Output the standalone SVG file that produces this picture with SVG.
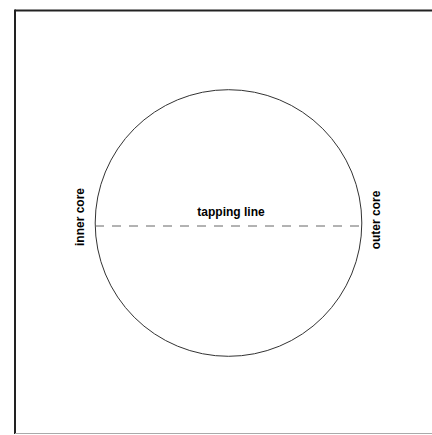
<svg xmlns="http://www.w3.org/2000/svg" width="432" height="435" viewBox="0 0 432 435">
<style>
.lbl{font-family:"Liberation Sans",Arial,sans-serif;font-weight:bold;font-size:12px;fill:#000}
</style>
<rect width="432" height="435" fill="#fff"/>
<g id="frame">
<line x1="15" y1="10.5" x2="432" y2="10.5" stroke="#222" stroke-width="2"/>
<line x1="15" y1="9.5" x2="15" y2="434" stroke="#222" stroke-width="2"/>
<line x1="15" y1="433.5" x2="432" y2="433.5" stroke="#aaa" stroke-width="1"/>
</g>
<g id="core">
<circle cx="228.5" cy="223" r="133.3" fill="none" stroke="#333" stroke-width="1"/>
</g>
<g id="connectors">
<line x1="95" y1="226" x2="362" y2="226" stroke="#666" stroke-width="1" stroke-dasharray="9,8"/>
</g>
<g id="tapping-line"><text class="lbl" x="231" y="216" text-anchor="middle">tapping line</text></g>
<g id="inner-core"><text class="lbl" transform="translate(83.5,217) rotate(-90)" text-anchor="middle">inner core</text></g>
<g id="outer-core"><text class="lbl" transform="translate(379.5,220) rotate(-90)" text-anchor="middle">outer core</text></g>
</svg>
